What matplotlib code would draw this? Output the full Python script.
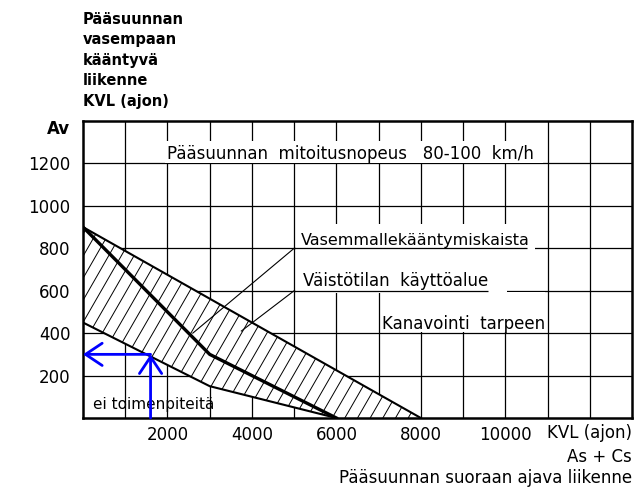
import numpy as np
import matplotlib.pyplot as plt
from matplotlib.patches import Polygon, Rectangle
from matplotlib.collections import LineCollection
from matplotlib.transforms import ScaledTranslation

plt.rcParams["font.family"] = ["DejaVu Sans"]

# ── data (KVL, ajon) ─────────────────────────────────────────────
# x: pääsuunnan suoraan ajava liikenne, y: vasempaan kääntyvä liikenne
upper_x = [0, 8000]          # vasemmallekääntymiskaistan raja
upper_y = [900, 0]
mid_x = [0, 3000, 6000]      # väistötilan käyttöalueen keskiraja (paksu)
mid_y = [900, 300, 0]
low_x = [0, 3000, 6000]      # "ei toimenpiteitä" raja
low_y = [450, 150, 0]

ex_kvl, ex_av = 1600, 300    # esimerkki (sininen nuoli)

x_ticks = [2000, 4000, 6000, 8000, 10000]
y_ticks = [200, 400, 600, 800, 1000, 1200, 1400]
y_ticklabels = ["200", "400", "600", "800", "1000", "1200", "Av"]
grid_x = list(range(1000, 13000, 1000))
grid_y = list(range(200, 1400, 200))

leader_a = ([5000, 2600], [800, 400])
leader_b = ([5000, 3750], [600, 410])

FS = 12
fig = plt.figure(figsize=(6.41, 4.90), dpi=100)
ax = fig.add_axes([83 / 641, 1 - 418 / 490, 549 / 641, 297 / 490])
ax.set_xlim(0, 13000)
ax.set_ylim(0, 1400)

# grid
ax.vlines(grid_x, 0, 1400, color="black", lw=0.9, zorder=1)
ax.hlines(grid_y, 0, 13000, color="black", lw=0.9, zorder=1)

# white gaps in the grid behind the labels
for (x0, x1, y0, y1) in [(1950, 10900, 1204, 1305),
                         (5050, 10700, 790, 915),
                         (5050, 10050, 590, 790),
                         (7050, 10950, 404, 595)]:
    ax.add_patch(Rectangle((x0, y0), x1 - x0, y1 - y0, facecolor="white",
                           edgecolor="none", zorder=2))
# underlines of the labels
ax.hlines([800, 600], [5000, 5000], [10520, 9600], color="black", lw=0.9, zorder=3)

# hatched area
poly_x = upper_x + low_x[::-1]
poly_y = upper_y + low_y[::-1]
region = Polygon(np.column_stack([poly_x, poly_y]), closed=True,
                 facecolor="white", edgecolor="none", zorder=2)
ax.add_patch(region)
slope = np.tan(np.radians(60)) * 0.2   # 60 deg on screen
segs = [[(x0, 0), (x0 + 1400 / slope, 1400)] for x0 in np.arange(-4000, 8500, 300)]
hatch = LineCollection(segs, colors="black", linewidths=0.7, zorder=3)
hatch.set_clip_path(region)
ax.add_collection(hatch)

ax.plot(upper_x, upper_y, color="black", lw=1.5, zorder=4)
ax.plot(low_x, low_y, color="black", lw=1.5, zorder=4)
ax.plot(mid_x, mid_y, color="black", lw=2.4, zorder=5)

# leader lines
ax.plot(*leader_a, color="black", lw=0.8, zorder=4)
ax.plot(*leader_b, color="black", lw=0.8, zorder=4)

# texts inside the chart
ax.text(2000, 1203, "Pääsuunnan  mitoitusnopeus   80-100  km/h", fontsize=FS,
        ha="left", va="bottom", zorder=6)
ax.text(5170, 803, "Vasemmallekääntymiskaista", fontsize=11.5, ha="left",
        va="bottom", zorder=6)
ax.text(5210, 603, "Väistötilan  käyttöalue", fontsize=FS, ha="left",
        va="bottom", zorder=6)
ax.text(7085, 403, "Kanavointi  tarpeen", fontsize=FS, ha="left",
        va="bottom", zorder=6)
ax.text(240, 62, "ei toimenpiteitä", fontsize=11, ha="left", va="center",
        zorder=6)

# blue example arrows
arrow = dict(arrowstyle="->,head_length=1.2,head_width=0.8", color="#0000ff",
             lw=2, mutation_scale=10, shrinkA=0, shrinkB=0)
ax.annotate("", xy=(0, ex_av), xytext=(ex_kvl, ex_av), arrowprops=arrow,
            zorder=7, annotation_clip=False)
ax.annotate("", xy=(ex_kvl, ex_av), xytext=(ex_kvl, 0), arrowprops=arrow,
            zorder=7, annotation_clip=False)

# axes
ax.set_xticks(x_ticks)
ax.set_xticklabels([str(v) for v in x_ticks], fontsize=FS)
ax.set_yticks(y_ticks)
ax.set_yticklabels(y_ticklabels, fontsize=FS)
ax.tick_params(axis="both", length=0)
ax.tick_params(axis="x", pad=6)
ax.tick_params(axis="y", pad=9)
av = ax.get_yticklabels()[-1]
av.set_fontweight("bold")
av.set_transform(av.get_transform() + ScaledTranslation(0, -6 / 100, fig.dpi_scale_trans))
for s in ax.spines.values():
    s.set_linewidth(1.8)

# titles
fig.text(83 / 641, 1 - 12 / 490,
         "Pääsuunnan\nvasempaan\nkääntyvä\nliikenne\nKVL (ajon)",
         fontsize=10.5, fontweight="bold", ha="left", va="top", linespacing=1.45)
fig.text(632 / 641, 1 - 433 / 490, "KVL (ajon)", fontsize=FS, ha="right", va="center")
fig.text(632 / 641, 1 - 457 / 490, "As + Cs", fontsize=FS, ha="right", va="center")
fig.text(632 / 641, 1 - 478 / 490, "Pääsuunnan suoraan ajava liikenne",
         fontsize=FS, ha="right", va="center")

fig.savefig("out.png", dpi=100)
